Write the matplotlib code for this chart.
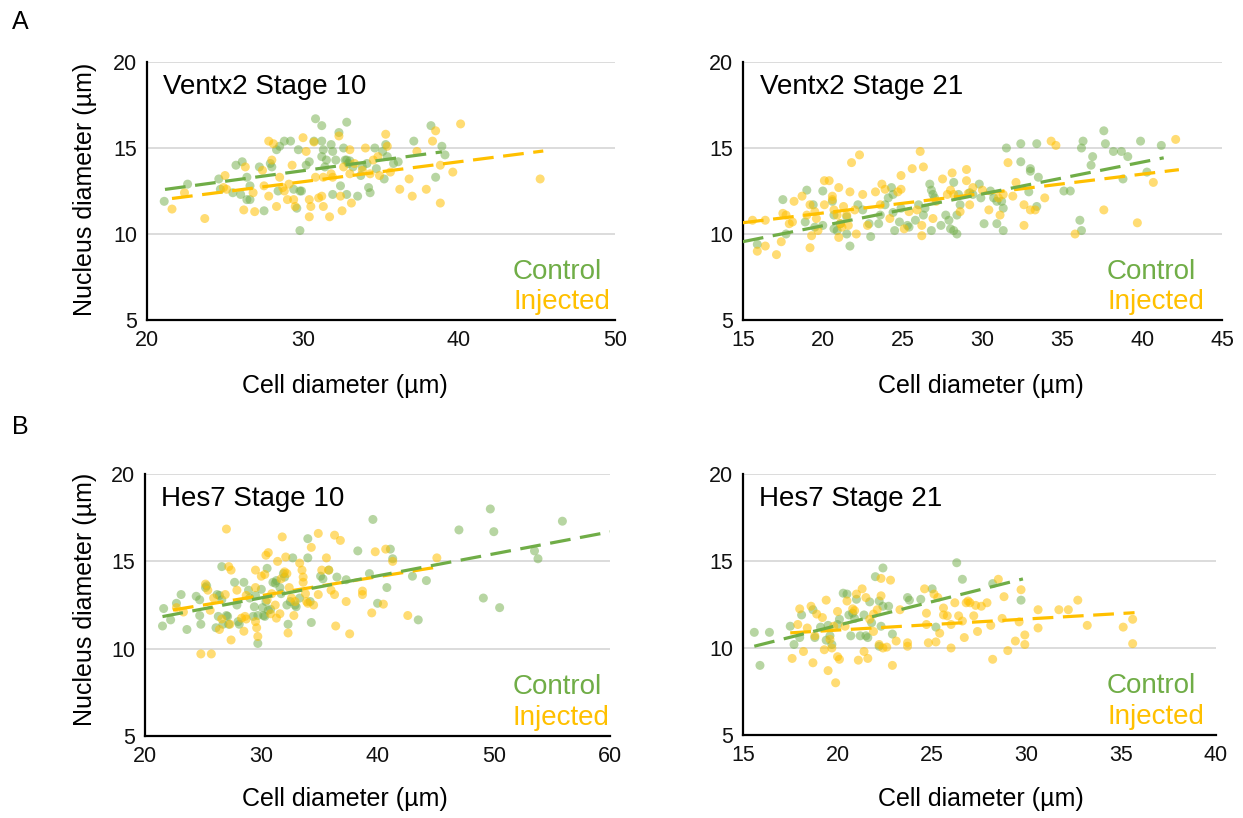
import numpy as np
import matplotlib
matplotlib.use("Agg")
import matplotlib.pyplot as plt

plt.rcParams['font.family'] = ['Liberation Sans', 'DejaVu Sans']

GREEN = '#70AD47'
GOLD = '#FFC000'

# ---- data: (cell diameter, nucleus diameter) in um ----
ventx2_st10_control = [
    (21.1, 11.9), (22.6, 12.9), (24.6, 13.2), (24.7, 12.6), (25.5, 12.4), (25.7, 14.0), (26.1, 14.2),
    (26.0, 12.3), (26.4, 12.0), (26.6, 12.0), (26.4, 13.3), (26.6, 12.8), (27.2, 13.9), (27.5, 11.35),
    (27.9, 14.1), (28.0, 13.9), (28.3, 14.9), (28.4, 12.5), (28.5, 15.1), (28.8, 15.4), (29.2, 15.4),
    (29.4, 12.6), (29.6, 11.5), (29.7, 14.9), (29.8, 12.5), (29.8, 10.2), (29.9, 12.5), (30.2, 14.0),
    (30.4, 14.2), (30.8, 16.7), (30.7, 15.4), (31.2, 16.3), (31.2, 15.4), (31.3, 14.9), (31.2, 14.5),
    (31.4, 13.9), (31.5, 14.3), (31.8, 15.2), (31.9, 14.8), (31.9, 12.3), (32.1, 14.3), (32.3, 15.9),
    (32.4, 12.8), (32.6, 15.0), (32.7, 14.3), (32.8, 14.3), (32.8, 16.5), (32.9, 14.1), (32.8, 12.3),
    (33.0, 14.25), (33.2, 13.9), (33.5, 12.2), (33.7, 13.4), (33.8, 13.9), (34.1, 14.1), (34.2, 12.7),
    (34.3, 12.4), (34.6, 15.0), (34.7, 13.8), (35.1, 14.8), (35.3, 15.2), (35.2, 13.2), (35.4, 14.5),
    (35.8, 14.1), (36.1, 14.2), (37.1, 15.4), (38.2, 16.3), (38.5, 13.3), (38.9, 15.1), (39.1, 14.6),
]
ventx2_st10_injected = [
    (21.6, 11.45), (22.4, 12.4), (23.7, 10.9), (25.0, 13.4), (24.9, 12.7), (25.1, 12.6), (26.2, 11.4),
    (26.3, 13.9), (26.8, 12.4), (26.9, 11.3), (27.4, 13.7), (27.5, 12.8), (27.8, 12.2), (27.8, 15.4),
    (28.0, 14.3), (28.1, 15.25), (28.3, 11.6), (28.5, 13.3), (28.7, 12.7), (28.8, 12.5), (29.0, 12.0),
    (29.1, 12.9), (29.3, 14.0), (29.4, 12.0), (29.5, 11.6), (30.0, 15.6), (30.2, 14.8), (30.4, 11.0),
    (30.4, 12.0), (30.5, 11.6), (30.7, 15.35), (30.8, 13.3), (31.0, 12.1), (31.2, 12.2), (31.3, 13.3),
    (31.3, 11.6), (31.7, 11.0), (31.8, 13.5), (31.9, 13.3), (32.3, 15.7), (32.4, 12.2), (32.5, 11.35),
    (32.6, 13.9), (33.0, 14.9), (33.0, 13.5), (33.1, 11.8), (33.3, 14.1), (33.8, 13.7), (34.0, 15.0),
    (34.3, 13.5), (34.5, 14.3), (34.8, 14.5), (34.9, 13.4), (35.3, 15.8), (35.4, 15.1), (35.6, 13.6),
    (36.2, 12.6), (36.8, 13.2), (37.0, 12.2), (37.3, 14.8), (37.9, 12.6), (38.3, 15.4), (38.5, 16.0),
    (38.8, 14.0), (38.8, 11.8), (39.6, 13.6), (40.1, 16.4), (45.2, 13.2),
]
ventx2_st21_control = [
    (15.9, 9.4), (17.5, 12.0), (17.7, 10.0), (19.0, 12.55), (18.9, 10.7), (19.4, 11.7), (19.5, 10.4),
    (20.0, 12.5), (20.0, 10.5), (20.6, 11.9), (20.7, 11.1), (20.7, 10.3), (20.9, 10.2), (21.1, 10.6),
    (21.5, 10.0), (21.5, 11.0), (21.7, 9.3), (22.2, 11.7), (22.5, 11.4), (22.9, 10.6), (23.0, 9.85),
    (23.5, 10.6), (23.6, 11.1), (23.9, 11.7), (24.1, 12.1), (24.3, 12.7), (24.4, 12.3), (24.4, 11.25),
    (24.5, 10.2), (24.8, 10.7), (24.9, 11.5), (25.3, 10.5), (25.4, 10.4), (25.8, 10.8), (26.0, 11.7),
    (26.3, 11.1), (26.4, 11.5), (26.7, 12.9), (26.8, 12.55), (26.8, 10.2), (26.9, 12.3), (27.0, 12.1),
    (27.4, 10.5), (27.7, 11.1), (27.9, 10.8), (28.0, 10.3), (28.2, 13.0), (28.2, 10.2), (28.4, 10.0),
    (28.4, 11.1), (28.5, 12.3), (28.6, 11.7), (29.2, 12.4), (29.4, 12.3), (29.8, 12.9), (29.9, 12.1),
    (30.1, 10.6), (30.5, 12.5), (30.7, 12.1), (30.9, 11.9), (30.9, 10.6), (31.2, 11.9), (31.3, 10.2),
    (31.3, 11.5), (31.5, 15.0), (32.4, 15.25), (32.4, 14.2), (32.9, 12.45), (33.0, 13.65), (33.0, 13.8),
    (33.4, 11.6), (33.4, 15.25), (33.5, 13.3), (35.1, 12.5), (35.5, 12.5), (36.1, 10.8), (36.2, 15.0),
    (36.2, 10.2), (36.3, 15.4), (36.8, 14.0), (36.9, 14.5), (37.6, 16.0), (37.7, 15.25), (38.2, 14.8),
    (38.7, 14.8), (38.8, 13.2), (39.1, 14.5), (39.9, 15.4), (40.3, 13.6), (41.2, 15.15),
]
ventx2_st21_injected = [
    (15.6, 10.8), (15.9, 9.0), (16.4, 10.8), (16.4, 9.3), (17.1, 8.8), (17.4, 9.55), (17.5, 11.2),
    (17.7, 11.1), (17.9, 10.6), (18.1, 10.7), (18.2, 11.9), (18.7, 12.2), (19.0, 11.1), (19.2, 11.7),
    (19.2, 9.2), (19.3, 9.9), (19.5, 11.3), (19.6, 10.9), (19.7, 10.2), (20.1, 11.7), (20.1, 13.1),
    (20.4, 13.1), (20.6, 12.0), (20.6, 12.2), (20.7, 11.4), (20.9, 11.1), (21.0, 12.7), (21.1, 10.6),
    (21.0, 9.8), (21.2, 10.4), (21.3, 11.6), (21.5, 11.1), (21.6, 10.5), (21.7, 12.45), (21.8, 14.15),
    (22.0, 11.4), (22.1, 10.0), (22.3, 14.6), (22.5, 12.3), (22.8, 10.5), (23.3, 12.45), (23.6, 11.7),
    (23.7, 12.9), (23.9, 12.6), (24.2, 10.9), (24.7, 12.45), (24.9, 13.4), (24.9, 12.6), (25.1, 10.3),
    (25.4, 11.3), (25.6, 13.8), (25.9, 11.4), (26.1, 14.8), (26.2, 10.5), (26.2, 9.9), (26.3, 13.9),
    (26.9, 10.9), (27.1, 11.9), (27.5, 13.2), (27.8, 12.3), (28.0, 12.55), (28.1, 13.55), (28.2, 12.3),
    (28.6, 11.3), (29.0, 13.75), (29.0, 13.1), (29.1, 12.35), (29.2, 11.7), (29.4, 12.7), (30.0, 12.55),
    (30.4, 11.4), (31.0, 12.1), (31.1, 11.1), (31.3, 12.3), (31.6, 14.15), (31.9, 12.2), (32.1, 13.0),
    (32.6, 11.7), (32.6, 10.5), (33.0, 11.4), (33.3, 11.4), (33.9, 12.1), (34.3, 15.4), (34.6, 15.15),
    (35.8, 10.0), (37.6, 11.4), (39.7, 10.65), (40.7, 13.0), (42.1, 15.5),
]
hes7_st10_control = [
    (21.5, 11.3), (21.6, 12.3), (22.2, 11.65), (22.7, 12.6), (23.1, 13.1), (23.6, 11.1), (24.4, 13.0),
    (24.7, 11.9), (24.8, 11.4), (24.7, 12.8), (25.2, 13.5), (25.3, 13.6), (26.1, 11.2), (26.2, 13.1),
    (26.3, 11.85), (26.4, 13.05), (26.6, 12.8), (26.6, 14.7), (26.7, 11.4), (27.0, 11.9), (27.1, 11.85),
    (27.2, 11.4), (27.7, 13.8), (27.9, 12.5), (28.0, 11.55), (28.1, 11.4), (28.5, 13.8), (28.9, 13.35),
    (29.0, 12.9), (29.3, 11.85), (29.4, 12.4), (29.5, 13.05), (29.7, 10.3), (29.7, 11.9), (30.0, 13.4),
    (30.1, 12.35), (30.2, 11.9), (30.3, 11.85), (30.4, 12.7), (30.5, 14.6), (30.6, 12.2), (30.8, 12.25),
    (31.0, 13.8), (31.2, 13.75), (31.3, 13.9), (31.6, 13.5), (31.7, 13.15), (31.9, 14.3), (32.0, 14.1),
    (32.2, 12.5), (32.3, 11.4), (32.5, 12.7), (32.7, 15.2), (32.9, 12.5), (33.0, 12.4), (33.3, 12.9),
    (34.0, 16.3), (34.0, 15.2), (34.2, 12.7), (34.3, 11.5), (35.1, 14.15), (35.3, 14.0), (35.8, 14.5),
    (36.5, 14.1), (37.3, 13.95), (38.3, 15.6), (39.3, 14.3), (39.6, 17.4), (40.0, 12.6), (40.8, 13.5),
    (41.1, 15.7), (41.3, 15.15), (43.0, 14.15), (43.5, 11.65), (44.2, 13.9), (47.0, 16.8), (49.1, 12.9),
    (49.7, 18.0), (50.0, 16.7), (50.5, 12.35), (53.5, 15.6), (53.8, 15.15), (55.9, 17.3),
]
hes7_st10_injected = [
    (22.7, 12.35), (23.3, 12.1), (24.8, 9.7), (25.2, 13.7), (25.4, 13.35), (25.6, 12.2), (25.7, 9.7),
    (25.9, 12.9), (26.4, 11.1), (26.6, 11.7), (26.9, 13.1), (27.0, 16.85), (27.2, 14.7), (27.3, 11.4),
    (27.4, 14.5), (27.4, 10.5), (27.9, 13.35), (28.3, 11.75), (28.5, 11.0), (28.6, 11.85), (28.7, 11.7),
    (28.7, 13.05), (29.5, 14.5), (29.5, 13.5), (29.5, 11.55), (29.6, 11.2), (29.7, 10.7), (30.0, 14.15),
    (30.3, 14.25), (30.4, 15.35), (30.5, 12.8), (30.6, 15.5), (30.8, 12.0), (30.9, 13.15), (31.2, 12.5),
    (31.3, 11.75), (31.4, 15.0), (31.6, 12.0), (31.7, 14.0), (31.8, 16.4), (32.0, 14.4), (32.1, 15.25),
    (32.2, 14.3), (32.3, 10.9), (32.4, 13.5), (32.6, 12.9), (32.8, 11.9), (32.9, 12.7), (33.3, 14.9),
    (33.5, 14.5), (33.6, 14.1), (33.6, 13.8), (33.8, 13.15), (33.9, 12.7), (34.0, 12.6), (34.3, 15.8),
    (34.5, 12.5), (34.9, 16.6), (34.9, 13.1), (35.2, 14.5), (35.6, 15.2), (35.8, 14.5), (36.0, 13.35),
    (36.3, 16.5), (36.3, 13.1), (36.4, 11.3), (36.8, 16.2), (37.3, 12.7), (37.6, 10.85), (38.7, 13.1),
    (38.7, 13.3), (39.5, 12.05), (39.8, 15.55), (40.5, 12.55), (40.7, 15.7), (41.3, 15.0), (42.6, 11.9),
    (45.1, 15.2),
]
hes7_st21_control = [
    (15.6, 10.9), (15.9, 9.0), (16.4, 10.9), (17.5, 11.25), (17.7, 10.2), (18.0, 10.6), (18.1, 11.9),
    (18.7, 12.2), (18.8, 10.6), (19.1, 11.2), (19.4, 10.45), (19.5, 11.3), (19.6, 10.7), (19.7, 10.2),
    (20.0, 11.35), (20.1, 11.65), (20.3, 13.15), (20.5, 13.1), (20.6, 11.9), (20.7, 10.7), (20.8, 12.0),
    (20.9, 11.7), (21.0, 12.8), (21.2, 10.7), (21.4, 11.9), (21.5, 10.7), (21.6, 10.6), (21.7, 12.65),
    (21.8, 11.45), (22.0, 14.1), (22.2, 12.7), (22.2, 10.1), (22.3, 11.25), (22.4, 14.6), (22.4, 12.4),
    (22.7, 12.4), (22.9, 10.8), (23.7, 12.9), (23.8, 12.75), (24.4, 12.8), (25.0, 13.4), (25.2, 11.2),
    (26.3, 14.9), (26.6, 13.95), (28.2, 13.7), (29.7, 12.75),
]
hes7_st21_injected = [
    (17.6, 9.4), (18.0, 12.25), (17.9, 11.35), (18.2, 9.8), (18.4, 11.15), (18.6, 12.4), (18.7, 9.15),
    (18.8, 10.7), (18.9, 11.95), (19.2, 11.75), (19.3, 9.9), (19.4, 12.75), (19.5, 8.7), (19.6, 10.5),
    (19.7, 10.0), (19.8, 11.25), (20.0, 9.5), (19.9, 8.0), (20.0, 12.1), (20.1, 9.35), (20.4, 11.25),
    (20.5, 12.7), (20.8, 12.25), (20.9, 12.15), (21.0, 13.1), (21.1, 9.3), (21.3, 13.4), (21.4, 9.8),
    (21.5, 12.9), (21.6, 9.4), (21.7, 11.65), (21.9, 10.95), (21.9, 11.95), (22.1, 12.2), (22.2, 10.2),
    (22.3, 13.0), (22.3, 14.0), (22.4, 10.0), (22.6, 10.05), (22.8, 13.9), (22.9, 9.0), (23.1, 10.4),
    (23.3, 12.2), (23.7, 10.3), (23.7, 10.1), (24.6, 13.4), (24.7, 12.0), (24.7, 11.35), (24.8, 10.3),
    (25.1, 13.1), (25.2, 10.35), (25.3, 12.9), (25.4, 10.85), (25.6, 11.9), (25.6, 12.3), (25.8, 11.85),
    (26.0, 11.35), (26.0, 10.0), (26.2, 12.6), (26.4, 11.85), (26.6, 11.55), (26.7, 10.6), (26.8, 12.6),
    (26.9, 12.7), (27.0, 12.6), (27.2, 11.85), (27.3, 12.45), (27.4, 10.95), (27.6, 12.4), (27.9, 12.6),
    (28.1, 11.3), (28.2, 9.35), (28.5, 13.95), (28.7, 11.7), (28.8, 12.95), (29.0, 9.85), (29.4, 10.4),
    (29.6, 11.5), (29.7, 13.35), (29.9, 10.75), (29.9, 10.2), (30.6, 11.15), (30.6, 12.2), (31.7, 12.2),
    (32.2, 12.2), (32.7, 12.75), (33.2, 11.3), (35.1, 11.2), (35.6, 11.65), (35.6, 10.25),
]

# linear trendlines: (slope, intercept, x from, x to)
ventx2_st10_trend = {'control': (0.123, 9.99, 21.15, 38.9), 'injected': (0.116, 9.56, 21.6, 45.4)}
ventx2_st21_trend = {'control': (0.185, 6.78, 15.0, 41.35), 'injected': (0.113, 8.96, 15.0, 42.3)}
hes7_st10_trend = {'control': (0.126, 9.13, 21.5, 60.0), 'injected': (0.108, 9.80, 22.4, 45.2)}
hes7_st21_trend = {'control': (0.2725, 5.85, 15.6, 29.8), 'injected': (0.0637, 9.755, 17.5, 35.7)}

panels = [
    # title, control, injected, trend, xlim, xticks, axes rect (figure fraction), legend-text x
    ('Ventx2 Stage 10', ventx2_st10_control, ventx2_st10_injected, ventx2_st10_trend,
     (20, 50), [20, 30, 40, 50], [0.1183, 0.6088, 0.3765, 0.3154], 0.782),
    ('Ventx2 Stage 21', ventx2_st21_control, ventx2_st21_injected, ventx2_st21_trend,
     (15, 45), [15, 20, 25, 30, 35, 40, 45], [0.5977, 0.6088, 0.3854, 0.3154], 0.76),
    ('Hes7 Stage 10', hes7_st10_control, hes7_st10_injected, hes7_st10_trend,
     (20, 60), [20, 30, 40, 50, 60], [0.1167, 0.1002, 0.3741, 0.3203], 0.791),
    ('Hes7 Stage 21', hes7_st21_control, hes7_st21_injected, hes7_st21_trend,
     (15, 40), [15, 20, 25, 30, 35, 40], [0.5977, 0.1015, 0.3805, 0.3190], 0.77),
]

fig = plt.figure(figsize=(12.43, 8.18), dpi=100)

for title, ctrl, inj, trend, xlim, xticks, rect, tx in panels:
    ax = fig.add_axes(rect)
    ctrl = np.array(ctrl)
    inj = np.array(inj)
    ax.scatter(ctrl[:, 0], ctrl[:, 1], s=42, color=GREEN, alpha=0.5, edgecolors='none', zorder=3)
    ax.scatter(inj[:, 0], inj[:, 1], s=42, color=GOLD, alpha=0.55, edgecolors='none', zorder=3)
    for key, col, z in [('injected', GOLD, 4), ('control', GREEN, 5)]:
        m, b, x0, x1 = trend[key]
        xs = np.array([x0, x1])
        ax.plot(xs, m * xs + b, color=col, lw=2.3, dashes=(6.5, 3), zorder=z)

    ax.set_xlim(*xlim)
    ax.set_ylim(5, 20)
    ax.set_xticks(xticks)
    ax.set_yticks([5, 10, 15, 20])
    ax.tick_params(length=0, labelsize=15.5, pad=7, colors='#111111')
    ax.yaxis.grid(True, color='#D9D9D9', lw=1.3)
    ax.set_axisbelow(True)
    for s in ['top', 'right']:
        ax.spines[s].set_visible(False)
    for s in ['left', 'bottom']:
        ax.spines[s].set_linewidth(1.6)
        ax.spines[s].set_color('black')

    ax.text(0.035, 0.905, title, transform=ax.transAxes, fontsize=20, va='center', ha='left')
    ax.text(tx, 0.16, 'Control', transform=ax.transAxes, fontsize=20, color=GREEN, va='baseline')
    ax.text(tx, 0.043, 'Injected', transform=ax.transAxes, fontsize=20, color=GOLD, va='baseline')

# axis titles
for yc in [0.768, 0.267]:
    fig.text(0.068, yc, 'Nucleus diameter (µm)', rotation=90, fontsize=18, ha='center', va='center')
for xc in [0.2776, 0.789]:
    fig.text(xc, 0.528, 'Cell diameter (µm)', fontsize=18, ha='center', va='center')
    fig.text(xc, 0.023, 'Cell diameter (µm)', fontsize=18, ha='center', va='center')

fig.text(0.016, 0.973, 'A', fontsize=18, ha='center', va='center')
fig.text(0.016, 0.478, 'B', fontsize=18, ha='center', va='center')

fig.savefig('out.png', dpi=100, facecolor='white')
